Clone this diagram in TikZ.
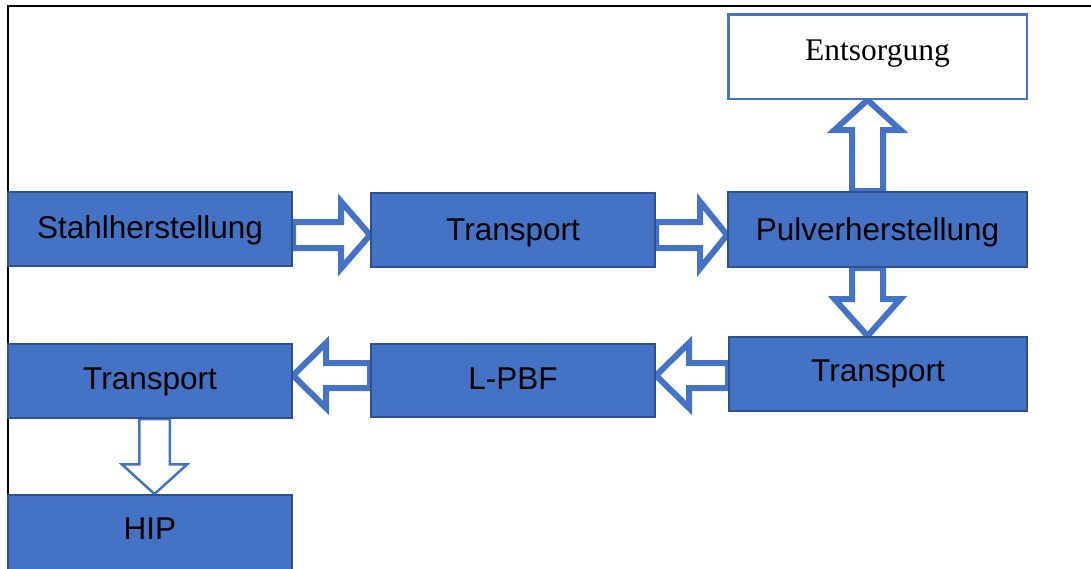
\documentclass[tikz,border=0pt]{standalone}
\usepackage{fontspec}
\setmainfont{Liberation Serif}
\setsansfont{Liberation Sans}
\usetikzlibrary{calc,backgrounds}
\definecolor{obl}{HTML}{4472C4}
\definecolor{obd}{HTML}{2F528F}
% horizontal block arrow: #1 style, #2 start, #3 tip, #4 shaft half, #5 head half, #6 signed head length
\newcommand\harrow[6]{%
  \draw[#1] let \p1=(#2), \p2=(#3) in
    ({\x1},{\y2+#4}) -- ({\x2-(#6)},{\y2+#4}) -- ({\x2-(#6)},{\y2+#5}) -- (\x2,\y2)
    -- ({\x2-(#6)},{\y2-(#5)}) -- ({\x2-(#6)},{\y2-(#4)}) -- ({\x1},{\y2-(#4)}) -- cycle;}
% vertical block arrow
\newcommand\varrow[6]{%
  \draw[#1] let \p1=(#2), \p2=(#3) in
    ({\x2+#4},{\y1}) -- ({\x2+#4},{\y2-(#6)}) -- ({\x2+#5},{\y2-(#6)}) -- (\x2,\y2)
    -- ({\x2-(#5)},{\y2-(#6)}) -- ({\x2-(#4)},{\y2-(#6)}) -- ({\x2-(#4)},{\y1}) -- cycle;}
\tikzset{
  bluebox/.style={draw=obd, line width=2pt, fill=obl, inner sep=0pt,
    font=\sffamily\fontsize{31.5}{36}\selectfont, text=black, text height=22.6pt},
  whitebox/.style={draw=obl, line width=2.5pt, fill=white, inner sep=0pt,
    font=\rmfamily\fontsize{31.5}{36}\selectfont, text=black, text height=20.9pt},
  thickarrow/.style={draw=obl, fill=white, line width=6pt, line join=miter},
  thinarrow/.style={draw=obl, fill=white, line width=2.5pt, line join=miter},
  frameline/.style={draw=black, line width=2pt}
}
\begin{document}
\begin{tikzpicture}[x=1pt, y=-1pt]
\useasboundingbox (0,0) rectangle (1091,568);
\clip (0,0) rectangle (1091,568);
% boxes
\node[bluebox, minimum width=284pt, minimum height=74pt, text depth=4pt] (stahl) at (150,229) {Stahlherstellung};
\node[bluebox, minimum width=284pt, minimum height=74pt, text depth=2pt] (t1) at (513,230) {Transport};
\node[bluebox, minimum width=299pt, minimum height=75pt, text depth=1pt] (pulver) at (877.5,229.5) {Pulverherstellung};
\node[whitebox, minimum width=298.5pt, minimum height=84.5pt, text depth=12pt] (ents) at (877.5,56.5) {Entsorgung};
\node[bluebox, minimum width=298pt, minimum height=74pt, text depth=7pt] (t2) at (878,374) {Transport};
\node[bluebox, minimum width=284pt, minimum height=73pt, text depth=5pt] (lpbf) at (513,380.5) {L-PBF};
\node[bluebox, minimum width=284pt, minimum height=74pt, text depth=5pt] (t3) at (150,381) {Transport};
\node[bluebox, minimum width=284pt, minimum height=90pt, text depth=23pt] (hip) at (150,540) {HIP};
% axes of the arrows
\coordinate (ax1) at (0,235);
\coordinate (ax2) at (0,375.5);
\coordinate (axv) at (867.5,0);
\coordinate (axh) at (154.5,0);
\coordinate (fa) at (1091,5.5);
\coordinate (fb) at (7.5,5.5);
\coordinate (fc) at (7.5,575);
\begin{pgfonlayer}{background}
\draw[frameline] (fa) -- (fb) -- (fc);
\harrow{thickarrow}{stahl.east |- ax1}{t1.west |- ax1}{13pt}{33.5pt}{29pt}
\harrow{thickarrow}{t1.east |- ax1}{pulver.west |- ax1}{13pt}{33.5pt}{27pt}
\varrow{thickarrow}{pulver.north -| axv}{ents.south -| axv}{15.5pt}{33pt}{30pt}
\varrow{thickarrow}{pulver.south -| axv}{t2.north -| axv}{15.5pt}{33pt}{-37pt}
\harrow{thickarrow}{t2.west |- ax2}{lpbf.east |- ax2}{12.5pt}{32.5pt}{-33pt}
\harrow{thickarrow}{lpbf.west |- ax2}{t3.east |- ax2}{12.5pt}{32.5pt}{-33pt}
\varrow{thinarrow}{t3.south -| axh}{hip.north -| axh}{15.25pt}{32.75pt}{-29.75pt}
\end{pgfonlayer}
\end{tikzpicture}
\end{document}
